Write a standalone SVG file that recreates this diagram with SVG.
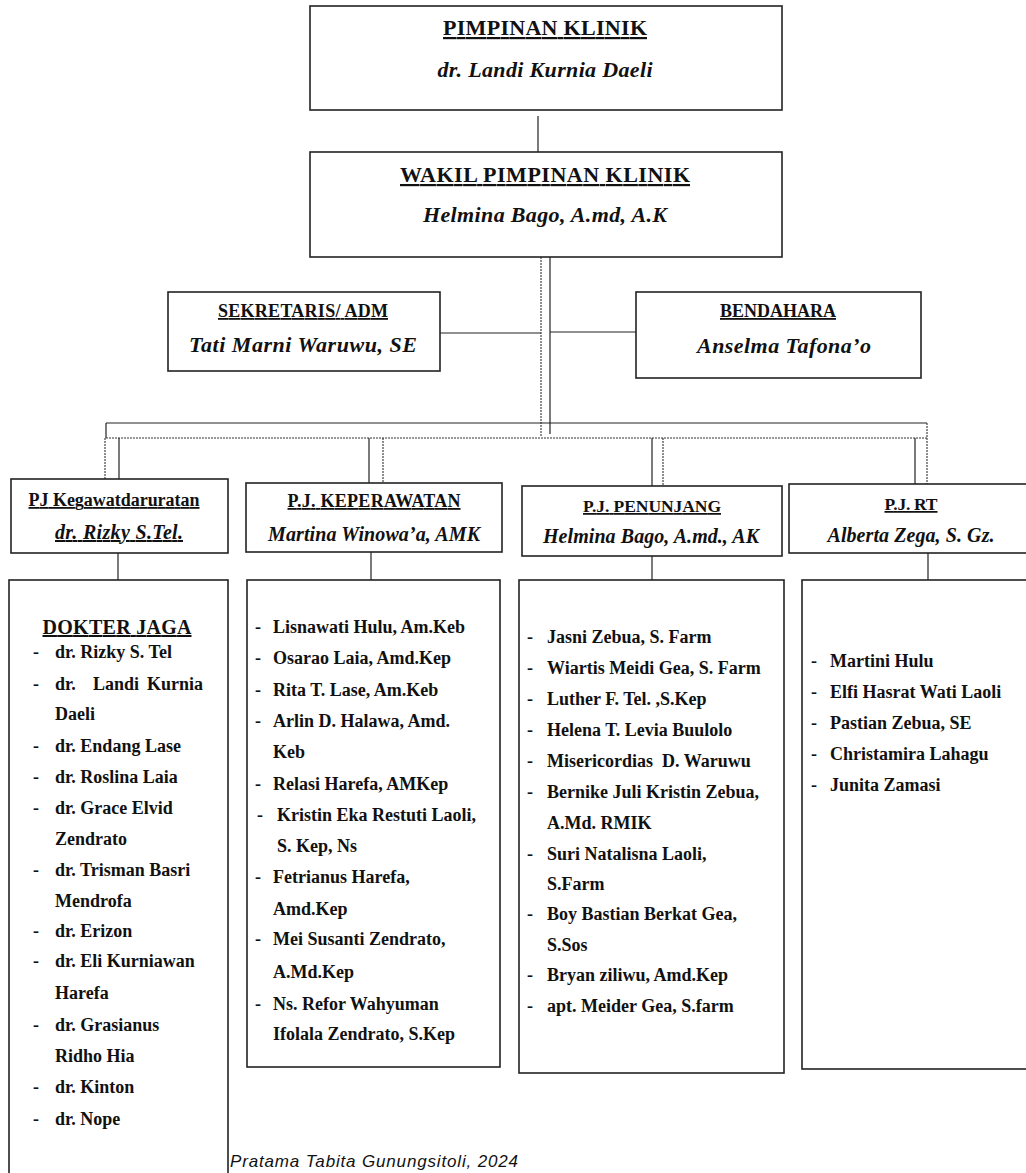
<svg xmlns="http://www.w3.org/2000/svg" width="1026" height="1173" viewBox="0 0 1026 1173">
<style>
.box{fill:#fff;stroke:#222;stroke-width:1.6}
.ln{stroke:#222;stroke-width:1.2;fill:none}
.dl{stroke:#333;stroke-width:1.1;fill:none;stroke-dasharray:2 1}
text{font-family:"Liberation Serif","Times New Roman",serif;font-weight:bold;fill:#111}
.t{text-anchor:middle;text-decoration:underline}
.n{text-anchor:middle;font-style:italic}
.li{font-size:18px}
.foot{font-family:"Liberation Sans",Arial,sans-serif;font-weight:normal;font-style:italic;font-size:17px}
</style>
<rect width="1026" height="1173" fill="#fff"/>
<g id="connectors">
<line class="ln" x1="538" y1="116" x2="538" y2="152"/>
<line class="dl" x1="541" y1="257" x2="541" y2="436"/>
<line class="ln" x1="550" y1="257" x2="550" y2="434"/>
<line class="ln" x1="440" y1="333" x2="541" y2="333"/>
<line class="ln" x1="550" y1="332" x2="636" y2="332"/>
<line class="ln" x1="106" y1="423" x2="927" y2="423"/>
<line class="ln" x1="106" y1="423" x2="106" y2="438"/>
<line class="dl" x1="106" y1="438" x2="927" y2="438"/>
<line class="dl" x1="105" y1="438" x2="105" y2="479"/>
<line class="dl" x1="927" y1="423" x2="927" y2="484"/>
<line class="ln" x1="119" y1="438" x2="119" y2="479"/>
<line class="ln" x1="369" y1="438" x2="369" y2="483"/>
<line class="dl" x1="383" y1="438" x2="383" y2="483"/>
<line class="ln" x1="652" y1="438" x2="652" y2="486"/>
<line class="dl" x1="663" y1="438" x2="663" y2="486"/>
<line class="ln" x1="915" y1="438" x2="915" y2="484"/>
<line class="ln" x1="118" y1="553" x2="118" y2="580"/>
<line class="ln" x1="371" y1="552" x2="371" y2="580"/>
<line class="ln" x1="652" y1="556" x2="652" y2="580"/>
<line class="ln" x1="928" y1="553" x2="928" y2="580"/>
</g>
<g id="pimpinan">
<rect class="box" x="310" y="6" width="472" height="104"/>
<text class="t" x="545" y="35" font-size="22" textLength="204">PIMPINAN KLINIK</text>
<text class="n" x="545" y="77" font-size="22" textLength="215">dr. Landi Kurnia Daeli</text>
</g>
<g id="wakil">
<rect class="box" x="310" y="152" width="472" height="105"/>
<text class="t" x="545" y="182" font-size="22" textLength="290">WAKIL PIMPINAN KLINIK</text>
<text class="n" x="545" y="222" font-size="22" textLength="244">Helmina Bago, A.md, A.K</text>
</g>
<g id="sekretaris">
<rect class="box" x="168" y="292" width="272" height="79"/>
<text class="t" x="303" y="317" font-size="18" textLength="170">SEKRETARIS/ ADM</text>
<text class="n" x="303" y="352" font-size="22" textLength="228">Tati Marni Waruwu, SE</text>
</g>
<g id="bendahara">
<rect class="box" x="636" y="292" width="285" height="86"/>
<text class="t" x="778" y="317" font-size="18" textLength="116">BENDAHARA</text>
<text class="n" x="784" y="353" font-size="22" textLength="174">Anselma Tafona’o</text>
</g>
<g id="pj-kegawatdaruratan">
<rect class="box" x="11" y="479" width="217" height="74"/>
<text class="t" x="114" y="506" font-size="18" textLength="171">PJ Kegawatdaruratan</text>
<text class="n" x="119" y="539" font-size="20" textLength="128" style="text-decoration:underline">dr. Rizky S.Tel.</text>
</g>
<g id="pj-keperawatan">
<rect class="box" x="246" y="483" width="256" height="69"/>
<text class="t" x="374" y="507" font-size="18" textLength="173">P.J. KEPERAWATAN</text>
<text class="n" x="374" y="541" font-size="20" textLength="212">Martina Winowa’a, AMK</text>
</g>
<g id="pj-penunjang">
<rect class="box" x="522" y="486" width="260" height="70"/>
<text class="t" x="652" y="512" font-size="17.5" textLength="138">P.J. PENUNJANG</text>
<text class="n" x="651" y="543" font-size="20" textLength="216">Helmina Bago, A.md., AK</text>
</g>
<g id="pj-rt">
<rect class="box" x="789" y="484" width="260" height="69"/>
<text class="t" x="911" y="510" font-size="17.5" textLength="53">P.J. RT</text>
<text class="n" x="911" y="542" font-size="20" textLength="167">Alberta Zega, S. Gz.</text>
</g>
<g id="dokter-jaga">
<rect class="box" x="9" y="580" width="219" height="610"/>
<text class="t" x="117" y="634" font-size="20" textLength="149">DOKTER JAGA</text>
<g class="li">
<text x="33" y="658">-</text><text x="55" y="658">dr. Rizky S. Tel</text>
<text x="33" y="690">-</text><text y="690"><tspan x="55">dr.</tspan><tspan x="93">Landi</tspan><tspan x="147">Kurnia</tspan></text>
<text x="55" y="720">Daeli</text>
<text x="33" y="752">-</text><text x="55" y="752">dr. Endang Lase</text>
<text x="33" y="783">-</text><text x="55" y="783">dr. Roslina Laia</text>
<text x="33" y="814">-</text><text x="55" y="814">dr. Grace Elvid</text>
<text x="55" y="845">Zendrato</text>
<text x="33" y="876">-</text><text x="55" y="876">dr. Trisman Basri</text>
<text x="55" y="907">Mendrofa</text>
<text x="33" y="937">-</text><text x="55" y="937">dr. Erizon</text>
<text x="33" y="967">-</text><text x="55" y="967">dr. Eli Kurniawan</text>
<text x="55" y="999">Harefa</text>
<text x="33" y="1031">-</text><text x="55" y="1031">dr. Grasianus</text>
<text x="55" y="1062">Ridho Hia</text>
<text x="33" y="1093">-</text><text x="55" y="1093">dr. Kinton</text>
<text x="33" y="1125">-</text><text x="55" y="1125">dr. Nope</text>
</g>
</g>
<g id="staf-keperawatan">
<rect class="box" x="247" y="580" width="253" height="487"/>
<g class="li">
<text x="255" y="633">-</text><text x="273" y="633">Lisnawati Hulu, Am.Keb</text>
<text x="255" y="664">-</text><text x="273" y="664">Osarao Laia, Amd.Kep</text>
<text x="255" y="696">-</text><text x="273" y="696">Rita T. Lase, Am.Keb</text>
<text x="255" y="727">-</text><text x="273" y="727">Arlin D. Halawa, Amd.</text>
<text x="273" y="758">Keb</text>
<text x="255" y="790">-</text><text x="273" y="790">Relasi Harefa, AMKep</text>
<text x="257" y="821">-</text><text x="277" y="821">Kristin Eka Restuti Laoli,</text>
<text x="277" y="852">S. Kep, Ns</text>
<text x="255" y="883">-</text><text x="273" y="883">Fetrianus Harefa,</text>
<text x="273" y="915">Amd.Kep</text>
<text x="255" y="945">-</text><text x="273" y="945">Mei Susanti Zendrato,</text>
<text x="273" y="978">A.Md.Kep</text>
<text x="255" y="1010">-</text><text x="273" y="1010">Ns. Refor Wahyuman</text>
<text x="273" y="1040">Ifolala Zendrato, S.Kep</text>
</g>
</g>
<g id="staf-penunjang">
<rect class="box" x="519" y="580" width="265" height="493"/>
<g class="li">
<text x="527" y="643">-</text><text x="547" y="643">Jasni Zebua, S. Farm</text>
<text x="527" y="674">-</text><text x="547" y="674">Wiartis Meidi Gea, S. Farm</text>
<text x="527" y="705">-</text><text x="547" y="705">Luther F. Tel. ,S.Kep</text>
<text x="527" y="736">-</text><text x="547" y="736">Helena T. Levia Buulolo</text>
<text x="527" y="767">-</text><text x="547" y="767">Misericordias&#160; D. Waruwu</text>
<text x="527" y="798">-</text><text x="547" y="798">Bernike Juli Kristin Zebua,</text>
<text x="547" y="829">A.Md. RMIK</text>
<text x="527" y="860">-</text><text x="547" y="860">Suri Natalisna Laoli,</text>
<text x="547" y="890">S.Farm</text>
<text x="527" y="920">-</text><text x="547" y="920">Boy Bastian Berkat Gea,</text>
<text x="547" y="951">S.Sos</text>
<text x="527" y="981">-</text><text x="547" y="981">Bryan ziliwu, Amd.Kep</text>
<text x="527" y="1012">-</text><text x="547" y="1012">apt. Meider Gea, S.farm</text>
</g>
</g>
<g id="staf-rt">
<rect class="box" x="802" y="580" width="250" height="489"/>
<g class="li">
<text x="811" y="667">-</text><text x="830" y="667">Martini Hulu</text>
<text x="811" y="698">-</text><text x="830" y="698">Elfi Hasrat Wati Laoli</text>
<text x="811" y="729">-</text><text x="830" y="729">Pastian Zebua, SE</text>
<text x="811" y="760">-</text><text x="830" y="760">Christamira Lahagu</text>
<text x="811" y="791">-</text><text x="830" y="791">Junita Zamasi</text>
</g>
</g>
<text class="foot" x="230" y="1167" textLength="288">Pratama Tabita Gunungsitoli, 2024</text>
</svg>
